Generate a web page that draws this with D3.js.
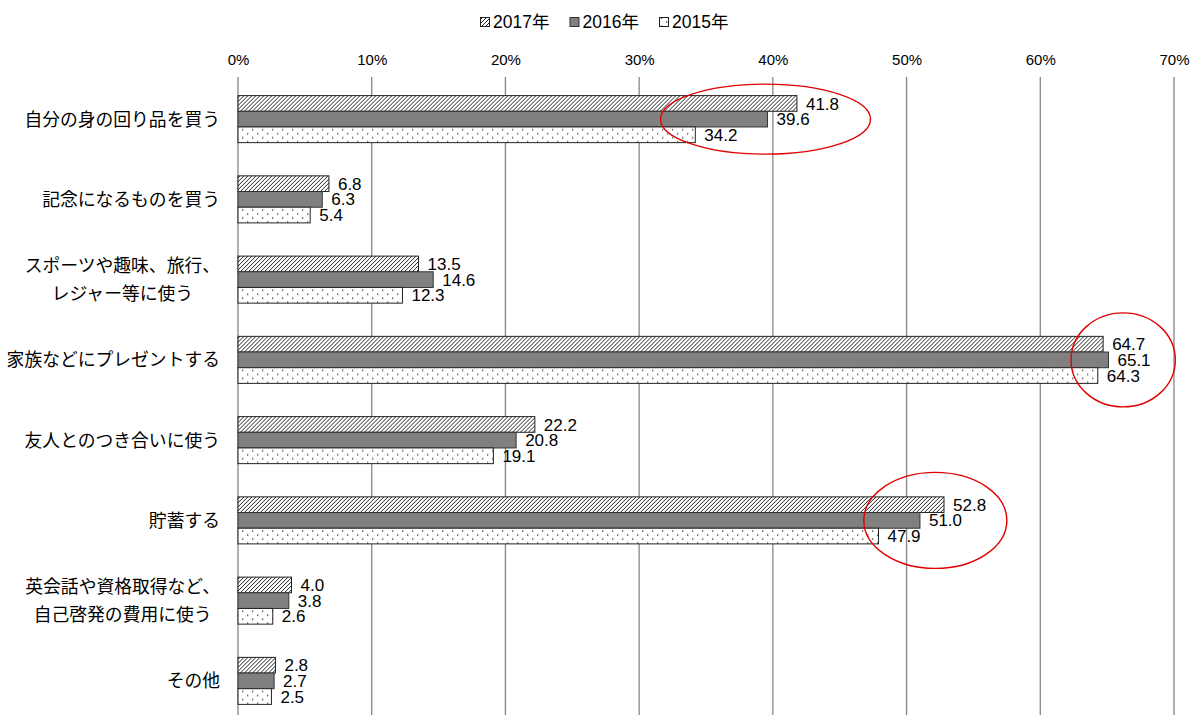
<!DOCTYPE html>
<html lang="ja">
<head>
<meta charset="utf-8">
<script src="https://cdn.jsdelivr.net/npm/d3@7"></script>
<style>
  html, body { margin: 0; padding: 0; background: #fff; }
  svg { display: block; }
  .num { font-family: "Liberation Sans", "Noto Sans CJK JP", sans-serif; }
  .jp { font-family: "Noto Sans CJK JP", sans-serif; }
</style>
</head>
<body>
<svg id="chart" width="1190" height="715"></svg>
<script>
// Survey: how the money is used (%), three survey years
const categories = [
  ["自分の身の回り品を買う"],
  ["記念になるものを買う"],
  ["スポーツや趣味、旅行、", "レジャー等に使う"],
  ["家族などにプレゼントする"],
  ["友人とのつき合いに使う"],
  ["貯蓄する"],
  ["英会話や資格取得など、", "自己啓発の費用に使う"],
  ["その他"]
];
const seriesNames = ["2017年", "2016年", "2015年"];
const values2017 = [41.8, 6.8, 13.5, 64.7, 22.2, 52.8, 4.0, 2.8];
const values2016 = [39.6, 6.3, 14.6, 65.1, 20.8, 51.0, 3.8, 2.7];
const values2015 = [34.2, 5.4, 12.3, 64.3, 19.1, 47.9, 2.6, 2.5];
const tickValues = [0, 10, 20, 30, 40, 50, 60, 70];
const tickLabels = ["0%", "10%", "20%", "30%", "40%", "50%", "60%", "70%"];
// Highlighted areas: category index and the value span circled
const highlights = [
  { cat: 0, from: 31.6, to: 47.3 },
  { cat: 3, from: 62.3, to: 70.1 },
  { cat: 5, from: 46.8, to: 57.5 }
];

const seriesValues = [values2017, values2016, values2015];
const W = 1190, H = 715;
const svg = d3.select("#chart");

const x = d3.scaleLinear().domain([0, 70]).range([238, 1174]);
const y0 = d3.scaleBand().domain(d3.range(categories.length)).range([79, 721])
  .paddingInner(0.414).paddingOuter(0.207);
const y1 = d3.scaleBand().domain(d3.range(seriesNames.length)).range([0, y0.bandwidth()]);

// Fill patterns
const defs = svg.append("defs");
const hatch = defs.append("pattern").attr("id", "hatch")
  .attr("patternUnits", "userSpaceOnUse").attr("width", 4).attr("height", 4);
hatch.append("rect").attr("width", 4).attr("height", 4).attr("fill", "#fff");
hatch.append("path").attr("d", "M-1,1 l2,-2 M0,4 l4,-4 M3,5 l2,-2")
  .attr("stroke", "#222").attr("stroke-width", 1);
const dots = defs.append("pattern").attr("id", "dots")
  .attr("patternUnits", "userSpaceOnUse").attr("width", 10).attr("height", 8);
dots.append("rect").attr("width", 10).attr("height", 8).attr("fill", "#fff");
dots.append("rect").attr("x", 2).attr("y", 1.5).attr("width", 1.3).attr("height", 1.3).attr("fill", "#333");
dots.append("rect").attr("x", 7).attr("y", 5.5).attr("width", 1.3).attr("height", 1.3).attr("fill", "#333");
const fills = ["url(#hatch)", "#808080", "url(#dots)"];
const strokes = ["#222", "#333", "#222"];

// Grid lines
svg.append("g").selectAll("line").data(tickValues).join("line")
  .attr("x1", d => x(d)).attr("x2", d => x(d))
  .attr("y1", 77).attr("y2", H)
  .attr("stroke", "#868686").attr("stroke-width", 1.3);

// Top axis labels
const xAxis = d3.axisTop(x).tickValues(tickValues)
  .tickFormat((d, i) => tickLabels[i]).tickSize(0).tickPadding(0);
const axisG = svg.append("g").attr("transform", "translate(0,65)").call(xAxis);
axisG.select(".domain").remove();
axisG.selectAll("text").attr("class", "num").attr("font-size", 15)
  .attr("fill", "#000").attr("font-family", null);

// Bars
const groups = svg.append("g").selectAll("g").data(categories).join("g")
  .attr("transform", (d, i) => `translate(0,${y0(i)})`);
groups.each(function (c, ci) {
  const g = d3.select(this);
  seriesValues.forEach((vals, si) => {
    const v = vals[ci];
    g.append("rect")
      .attr("x", x(0)).attr("y", y1(si))
      .attr("width", x(v) - x(0)).attr("height", y1.bandwidth())
      .attr("fill", fills[si]).attr("stroke", strokes[si]).attr("stroke-width", 1);
    g.append("text").attr("class", "num")
      .attr("x", x(v) + 9).attr("y", y1(si) + y1.bandwidth() / 2)
      .attr("dy", "0.36em").attr("font-size", 17).attr("fill", "#000")
      .text(v.toFixed(1));
  });
});

// Category labels: single lines right-aligned, wrapped labels centred as a block
const fs = 17.8, lh = 28, labelRight = 220;
svg.append("g").selectAll("text").data(categories).join("text")
  .attr("class", "jp").attr("font-size", fs).attr("fill", "#000")
  .attr("y", (d, i) => y0(i) + y0.bandwidth() / 2)
  .each(function (lines) {
    const t = d3.select(this);
    if (lines.length === 1) {
      t.attr("text-anchor", "end").attr("x", labelRight).attr("dy", 0.36 * fs).text(lines[0]);
      return;
    }
    const spans = lines.map((ln, k) => t.append("tspan")
      .attr("dy", k === 0 ? (0.36 * fs - (lines.length - 1) * lh / 2) : lh)
      .text(ln));
    const maxW = d3.max(spans, s => s.node().getComputedTextLength());
    t.attr("text-anchor", "middle");
    spans.forEach(s => s.attr("x", labelRight - maxW / 2));
  });

// Red highlight ellipses
const ry = [35, 47, 48];
svg.append("g").selectAll("ellipse").data(highlights).join("ellipse")
  .attr("cx", d => (x(d.from) + x(d.to)) / 2)
  .attr("cy", d => y0(d.cat) + y0.bandwidth() / 2)
  .attr("rx", d => (x(d.to) - x(d.from)) / 2)
  .attr("ry", (d, i) => ry[i])
  .attr("fill", "none").attr("stroke", "#e00000").attr("stroke-width", 1.4);

// Legend
const legend = svg.append("g").attr("transform", "translate(480,0)");
seriesNames.forEach((name, i) => {
  const item = legend.append("g").attr("transform", `translate(${i * 89.5},0)`);
  item.append("rect").attr("x", 0.5).attr("y", 17.5).attr("width", 9).attr("height", 9)
    .attr("fill", fills[i]).attr("stroke", strokes[i]);
  item.append("text").attr("class", "num").attr("x", 13).attr("y", 28)
    .attr("font-size", 17.5).attr("fill", "#000").text(name);
});
</script>
</body>
</html>
